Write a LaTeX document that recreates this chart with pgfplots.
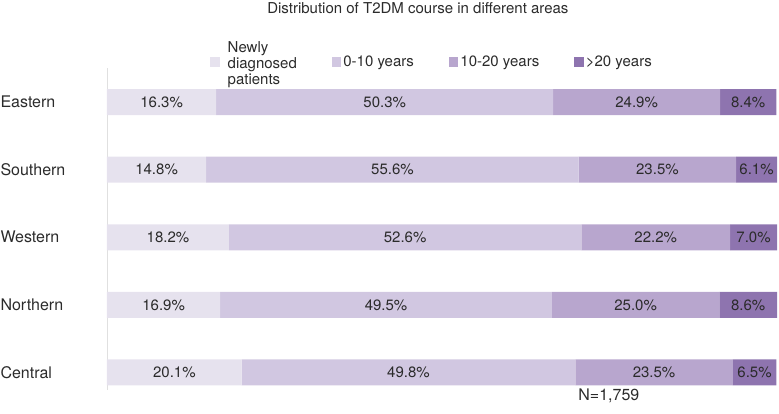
\documentclass[border=0pt]{standalone}
\usepackage{pgfplots}
\pgfplotsset{compat=1.18}
\usepackage{fontspec}
\setmainfont{TeX Gyre Heros}
\definecolor{cA}{HTML}{E6E2EE}
\definecolor{cB}{HTML}{D1C7E1}
\definecolor{cC}{HTML}{B8A6CE}
\definecolor{cD}{HTML}{8E74AF}
\definecolor{txt}{HTML}{2B2B2B}
\pgfplotsset{
  base/.style={
    at={(107pt,24pt)}, anchor=south west,
    scale only axis, width=670pt, height=322pt,
    xmin=0, xmax=100, ymin=-0.259, ymax=4.504,
    enlargelimits=false, clip=false,
  }
}
\begin{document}
\begin{tikzpicture}
\useasboundingbox (0,0) rectangle (779pt,414pt);
\begin{axis}[base,
  xbar stacked, bar width=26pt,
  axis x line=none, axis y line=left,
  axis line style={-, draw=black!12, line width=0.8pt},
  ytick={0,1,2,3,4},
  yticklabels={Central,Northern,Western,Southern,Eastern},
  major tick length=0pt,
  yticklabel style={anchor=west, xshift=-110pt, font=\fontsize{16}{18}\selectfont, text=txt},
  title={Distribution of T2DM course in different areas},
  title style={at={(0.464,1.1677)}, anchor=center, inner sep=0pt, font=\fontsize{15}{16}\selectfont, text=txt},
  legend style={at={(0.1537,1.0186)}, anchor=west, draw=none, fill=none, inner sep=0pt,
     font=\fontsize{15}{16}\selectfont, text=txt,
     nodes={inner xsep=2pt},
     /tikz/every even column/.append style={column sep=33pt}},
  legend columns=4,
  legend cell align=left,
  legend image code/.code={\fill[#1] (0pt,-4.75pt) rectangle (9.5pt,4.75pt);},
]
\addplot[fill=cA, draw=none] coordinates {(20.1,0) (16.9,1) (18.2,2) (14.8,3) (16.3,4)};
\addlegendentry{\hspace{6pt}\raisebox{13pt}{\begin{tabular}{@{}l@{}}Newly\\diagnosed\\patients\end{tabular}}}
\addplot[fill=cB, draw=none] coordinates {(49.8,0) (49.5,1) (52.6,2) (55.6,3) (50.3,4)};
\addlegendentry{0-10 years}
\addplot[fill=cC, draw=none] coordinates {(23.5,0) (25.0,1) (22.2,2) (23.5,3) (24.9,4)};
\addlegendentry{10-20 years}
\addplot[fill=cD, draw=none] coordinates {(6.5,0) (8.6,1) (7.0,2) (6.1,3) (8.4,4)};
\addlegendentry{>20 years}
\node[anchor=north, inner sep=0pt, font=\fontsize{16}{18}\selectfont, text=txt] at (axis description cs:0.749,0.003) {N=1,759};
\end{axis}
\begin{axis}[base, hide axis,
  nodes near coords, point meta=explicit symbolic,
  every node near coord/.append style={anchor=center, inner sep=0pt, font=\fontsize{15}{16}\selectfont, text=txt},
]
\addplot[only marks, mark=none] coordinates {
  (8.15,4) [16.3\%] (41.45,4) [50.3\%] (79.05,4) [24.9\%] (95.7,4) [8.4\%]
  (7.4,3) [14.8\%] (42.6,3) [55.6\%] (82.15,3) [23.5\%] (96.95,3) [6.1\%]
  (9.1,2) [18.2\%] (44.5,2) [52.6\%] (81.9,2) [22.2\%] (96.5,2) [7.0\%]
  (8.45,1) [16.9\%] (41.65,1) [49.5\%] (78.9,1) [25.0\%] (95.7,1) [8.6\%]
  (10.05,0) [20.1\%] (45.0,0) [49.8\%] (81.65,0) [23.5\%] (96.65,0) [6.5\%]
};
\end{axis}
\end{tikzpicture}
\end{document}
